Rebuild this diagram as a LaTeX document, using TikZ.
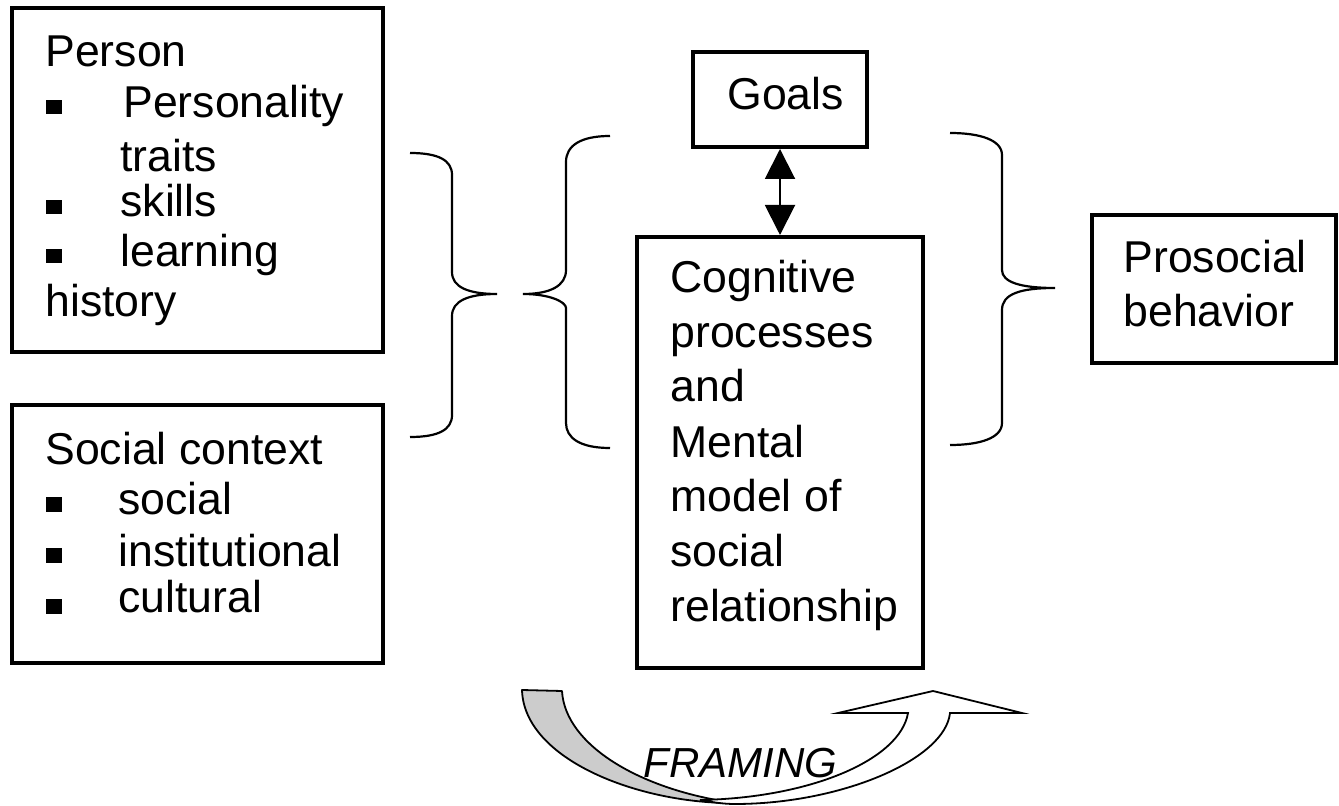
\documentclass[tikz,border=0pt]{standalone}
\usepackage{fontspec}
\setmainfont{Liberation Sans}
\usetikzlibrary{arrows.meta}
\begin{document}
\begin{tikzpicture}[x=0.5pt,y=-0.5pt,
  box/.style={draw=black,line width=2pt,inner sep=0pt,fill=none},
  txt/.style={inner sep=0pt,anchor=base west,font=\fontsize{22.3}{26}\selectfont},
  brace/.style={draw=black,line width=1.1pt},
  bul/.style={fill=black}]
\useasboundingbox (0,0) rectangle (1339,806);
% boxes
\node[box,minimum width=185.5pt,minimum height=172pt] (person) at (197.5,180) {};
\node[box,minimum width=185.5pt,minimum height=129pt] (social) at (197.5,534) {};
\node[box,minimum width=87pt,minimum height=47.5pt] (goals) at (780,99.5) {};
\node[box,minimum width=143pt,minimum height=215.5pt] (cog) at (780,452.5) {};
\node[box,minimum width=122pt,minimum height=74pt] (pro) at (1214,289) {};
% person text
\node[txt] (p0) at (45,67) {Person};
\node[txt] (p1) at (123,118) {Personality};
\node[txt] (p2) at (120,172) {traits};
\node[txt] (p3) at (120,217) {skills};
\node[txt] (p4) at (120,267) {learning};
\node[txt] (p5) at (45,317) {history};
\fill[bul] (46,100) rectangle (62,114);
\fill[bul] (46,200) rectangle (62,214);
\fill[bul] (46,249) rectangle (62,263);
% social text
\node[txt] (s0) at (45,465) {Social context};
\node[txt] (s1) at (118,515) {social};
\node[txt] (s2) at (118,567) {institutional};
\node[txt] (s3) at (118,613) {cultural};
\fill[bul] (46,497) rectangle (62,512);
\fill[bul] (46,548) rectangle (62,563);
\fill[bul] (46,599) rectangle (62,614);
% goals
\node[txt] (g0) at (727,110) {Goals};
% cognitive
\node[txt] (c0) at (670,293) {Cognitive};
\node[txt] (c1) at (670,348) {processes};
\node[txt] (c2) at (670,402) {and};
\node[txt] (c3) at (670,458) {Mental};
\node[txt] (c4) at (670,512) {model of};
\node[txt] (c5) at (670,567) {social};
\node[txt] (c6) at (670,622) {relationship};
% prosocial
\node[txt] (r0) at (1123,273) {Prosocial};
\node[txt] (r1) at (1123,327) {behavior};
% double arrow
\draw[line width=1pt,{Triangle[length=15pt,width=15pt]}-{Triangle[length=15pt,width=15pt]}] (goals.south) -- (cog.north);
% braces
\draw[brace] (410,153) .. controls (438,153) and (452,160) .. (452,175) -- (452,272)
  .. controls (452,287) and (468,294) .. (497,294)
  .. controls (468,294) and (452,301) .. (452,316) -- (452,415)
  .. controls (452,430) and (438,437) .. (410,437);
\draw[brace] (610,136) .. controls (580,136) and (566,146) .. (566,162) -- (566,270)
  .. controls (566,286) and (550,294) .. (523,294)
  .. controls (550,294) and (566,302) .. (566,308) -- (566,423)
  .. controls (566,438) and (580,448) .. (610,448);
\draw[brace] (950,133) .. controls (980,133) and (1002,140) .. (1002,155) -- (1002,270)
  .. controls (1002,282) and (1020,288) .. (1055,288)
  .. controls (1020,288) and (1002,294) .. (1002,310) -- (1002,423)
  .. controls (1002,438) and (980,445) .. (950,445);
% framing arrow
\draw[line width=0.9pt,fill=black!20,line join=round] (522,690) -- (562,691)
  .. controls (565,745) and (640,790) .. (735,803)
  .. controls (640,804) and (524,760) .. (522,690) -- cycle;
\draw[line width=0.9pt,fill=white,line join=miter] (735,804)
  .. controls (840,804) and (945,760) .. (950,713) -- (1022,713) -- (933,691) -- (838,713) -- (908,713)
  .. controls (900,760) and (810,798) .. (700,800)
  .. controls (712,802) and (722,804) .. (735,804) -- cycle;
\node[inner sep=0pt,anchor=base west,font=\fontsize{21}{25}\selectfont\itshape] (fr) at (643,777) {FRAMING};
\end{tikzpicture}
\end{document}
